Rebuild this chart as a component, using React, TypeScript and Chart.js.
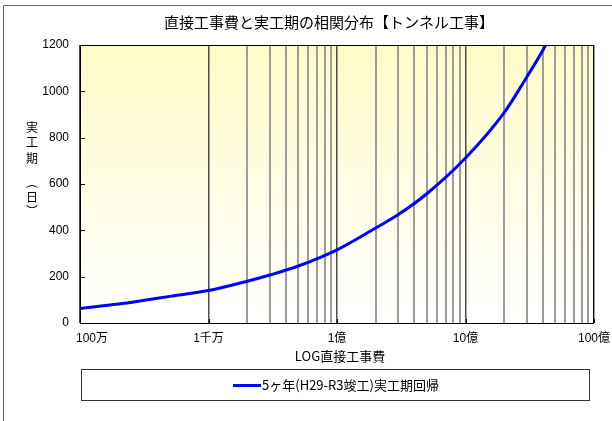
import React, { useEffect, useRef } from 'react';
import { Chart, registerables } from 'chart.js';

Chart.register(...registerables);

const chartTitle = '直接工事費と実工期の相関分布【トンネル工事】';
const xAxisTitle = 'LOG直接工事費';
const yAxisTitleChars = ['実', '工', '期', '︵', '日', '︶'];
const seriesLabel = '5ヶ年(H29-R3竣工)実工期回帰';

// direct construction cost (yen) and actual construction period (days)
const costs = [1e6, 2e6, 3e6, 5e6, 1e7, 2e7, 3e7, 5e7, 1e8, 2e8, 3e8, 5e8, 1e9, 2e9, 3e9, 4e9, 4.4e9];
const days = [63, 82, 96, 115, 140, 180, 207, 246, 316, 410, 468, 558, 712, 908, 1062, 1177, 1222];

const xTickValues = [1e6, 1e7, 1e8, 1e9, 1e10];
const xTickLabels = ['100万', '1千万', '1億', '10億', '100億'];
const minorMultipliers = [2, 3, 4, 5, 6, 7, 8, 9];
const minorDecades = [1e7, 1e8, 1e9];
const yMin = 0;
const yMax = 1200;
const yStep = 200;

const LATIN = '"Liberation Sans", "Noto Sans CJK JP", sans-serif';
const CJK = '"Noto Sans CJK JP", "Liberation Sans", sans-serif';

const isMajor = (v: number) => xTickValues.some((t) => Math.abs(t - v) / t < 1e-6);

const decor = {
  id: 'decor',
  beforeDraw(chart: any) {
    const { ctx, chartArea: a } = chart;
    ctx.save();
    ctx.fillStyle = '#ffffff';
    ctx.fillRect(0, 0, chart.width, chart.height);
    ctx.strokeStyle = '#666666';
    ctx.lineWidth = 1;
    ctx.beginPath();
    ctx.moveTo(3.5, chart.height);
    ctx.lineTo(3.5, 5.5);
    ctx.lineTo(chart.width, 5.5);
    ctx.stroke();
    const g = ctx.createLinearGradient(0, a.top, 0, a.bottom);
    g.addColorStop(0, '#FFFBC8');
    g.addColorStop(1, '#FFFFFF');
    ctx.fillStyle = g;
    ctx.fillRect(a.left, a.top, a.right - a.left, a.bottom - a.top);
    ctx.restore();
  },
  afterDatasetsDraw(chart: any) {
    const { ctx, chartArea: a } = chart;
    const xs = chart.scales.x;
    const ys = chart.scales.y;
    ctx.save();
    // plot border
    ctx.strokeStyle = '#000000';
    ctx.lineWidth = 1;
    ctx.strokeRect(Math.round(a.left) + 0.5, Math.round(a.top) + 0.5, Math.round(a.right - a.left) - 1, Math.round(a.bottom - a.top));
    // inward y tick marks
    ctx.beginPath();
    for (let v = yMin; v <= yMax; v += yStep) {
      const y = Math.round(ys.getPixelForValue(v)) + 0.5;
      ctx.moveTo(a.left, y);
      ctx.lineTo(a.left + 5, y);
    }
    // inward x tick marks
    for (const v of xTickValues) {
      const x = Math.round(xs.getPixelForValue(v)) + 0.5;
      ctx.moveTo(x, a.bottom);
      ctx.lineTo(x, a.bottom - 4);
    }
    ctx.stroke();

    // x tick labels
    ctx.fillStyle = '#000';
    ctx.font = `12px ${LATIN}`;
    ctx.textBaseline = 'middle';
    ctx.textAlign = 'left';
    xTickValues.forEach((v, i) => {
      const x = xs.getPixelForValue(v);
      const w = ctx.measureText(xTickLabels[i]).width;
      let left = x - w / 2;
      if (left < a.left - 4) left = a.left - 4;
      ctx.fillText(xTickLabels[i], left, a.bottom + 16);
    });

    // x axis title
    ctx.font = `13px ${CJK}`;
    ctx.textAlign = 'center';
    ctx.fillText(xAxisTitle, (a.left + a.right) / 2 + 3, a.bottom + 33);

    // y axis title (vertical)
    const yPos = [127, 142, 158, 182, 197, 211];
    ctx.font = `12px ${CJK}`;
    yAxisTitleChars.forEach((c, i) => {
      ctx.fillText(c, 32, yPos[i]);
    });

    // chart title
    ctx.font = `15px ${CJK}`;
    ctx.fillText(chartTitle, 329, 22);

    // legend box
    const bx = a.left + 1;
    const by = 369;
    const bw = 508;
    const bh = 31;
    ctx.strokeStyle = '#333333';
    ctx.lineWidth = 1;
    ctx.strokeRect(bx + 0.5, by + 0.5, bw, bh);
    ctx.font = `13px ${CJK}`;
    const ds = chart.data.datasets[0];
    const tw = ctx.measureText(ds.label).width;
    const lineLen = 28;
    const total = lineLen + 1 + tw;
    const sx = bx + bw / 2 - total / 2 + 1;
    const cy = by + bh / 2 + 1;
    ctx.strokeStyle = ds.borderColor;
    ctx.lineWidth = 3;
    ctx.beginPath();
    ctx.moveTo(sx, cy);
    ctx.lineTo(sx + lineLen, cy);
    ctx.stroke();
    ctx.textAlign = 'left';
    ctx.fillStyle = '#000';
    ctx.fillText(ds.label, sx + lineLen + 1, cy);
    ctx.restore();
  },
};

export default function App() {
  const ref = useRef<HTMLCanvasElement>(null);
  useEffect(() => {
    if (!ref.current) return;
    document.body.style.margin = '0';
    document.body.style.overflow = 'hidden';
    const gridValues = [
      ...xTickValues,
      ...minorDecades.flatMap((d) => minorMultipliers.map((m) => m * d)),
    ].sort((p, q) => p - q);
    const chart = new Chart(ref.current, {
      type: 'line',
      data: {
        datasets: [
          {
            label: seriesLabel,
            data: costs.map((c, i) => ({ x: c, y: days[i] })),
            borderColor: '#0000FF',
            borderWidth: 3,
            pointRadius: 0,
            cubicInterpolationMode: 'monotone',
            clip: 0,
            fill: false,
          },
        ],
      },
      options: {
        responsive: false,
        animation: false,
        devicePixelRatio: 1,
        layout: { padding: { left: 0, top: 45, right: 18, bottom: 0 } },
        plugins: {
          legend: { display: false },
          title: { display: false },
          tooltip: { enabled: false },
        },
        scales: {
          x: {
            type: 'logarithmic',
            min: 1e6,
            max: 1e10,
            afterBuildTicks: (s: any) => {
              s.ticks = gridValues.map((v) => ({ value: v }));
            },
            afterFit: (s: any) => {
              s.height = 98;
            },
            ticks: { display: false },
            border: { display: false },
            grid: {
              drawTicks: false,
              color: (c: any) => (isMajor(c.tick.value) ? '#4a4a4a' : '#9c9c9c'),
              lineWidth: (c: any) => (isMajor(c.tick.value) ? 1.5 : 2),
            },
          },
          y: {
            type: 'linear',
            min: yMin,
            max: yMax,
            afterFit: (s: any) => {
              s.width = 80;
            },
            ticks: {
              stepSize: yStep,
              padding: 11,
              color: '#000',
              font: { family: LATIN, size: 12 },
              callback: (v: any) => String(v),
            },
            border: { display: false },
            grid: { display: false, drawTicks: false },
          },
        },
      },
      plugins: [decor],
    } as any);
    return () => chart.destroy();
  }, []);
  return (
    <canvas
      ref={ref}
      width={612}
      height={421}
      style={{ position: 'fixed', left: 0, top: 0, width: 612, height: 421, display: 'block' }}
    />
  );
}
